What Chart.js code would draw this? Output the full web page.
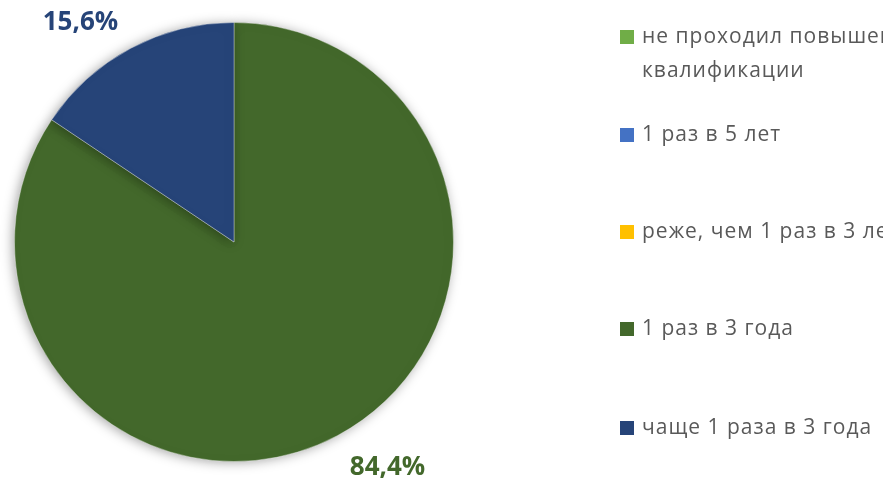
<!DOCTYPE html>
<html>
<head>
<meta charset="utf-8">
<script src="https://cdn.jsdelivr.net/npm/chart.js@4/dist/chart.umd.min.js"></script>
<style>
  html, body { margin: 0; padding: 0; background: #fff; overflow: hidden; }
  #wrap { position: relative; width: 883px; height: 484px; overflow: hidden; }
  #c { position: absolute; left: 0; top: 0; }
  #legend { position: absolute; left: 620px; top: 0; width: 400px; font-family: "Open Sans", "Noto Sans", sans-serif; font-size: 21px; letter-spacing: 1px; color: #595959; }
  .item { position: absolute; left: 0; white-space: nowrap; line-height: 34px; }
  .sw { position: absolute; left: 0; top: 12px; width: 14px; height: 14px; }
  .txt { position: absolute; left: 22px; top: 0; }
</style>
</head>
<body>
<div id="wrap">
  <canvas id="c" width="883" height="484"></canvas>
  <div id="legend"></div>
</div>
<script>
const categories = ["не проходил повышение квалификации", "1 раз в 5 лет", "реже, чем 1 раз в 3 лет", "1 раз в 3 года", "чаще 1 раза в 3 года"];
const legendLines = [["не проходил повышение", "квалификации"], ["1 раз в 5 лет"], ["реже, чем 1 раз в 3 лет"], ["1 раз в 3 года"], ["чаще 1 раза в 3 года"]];
const values = [0, 0, 0, 84.4, 15.6];
const labels = ["", "", "", "84,4%", "15,6%"];
const colors = ["#70AD47", "#4472C4", "#FFC000", "#43682B", "#264478"];

// legend (HTML)
const legendTops = [18, 116, 213, 310, 409];
const lg = document.getElementById('legend');
categories.forEach((cat, i) => {
  const it = document.createElement('div');
  it.className = 'item';
  it.style.top = legendTops[i] + 'px';
  it.title = cat;
  const sw = document.createElement('div');
  sw.className = 'sw';
  sw.style.background = colors[i];
  const tx = document.createElement('div');
  tx.className = 'txt';
  tx.innerHTML = legendLines[i].join('<br>');
  it.appendChild(sw); it.appendChild(tx);
  lg.appendChild(it);
});

const shadowPlugin = {
  id: 'shadow',
  beforeDatasetDraw(chart) {
    const ctx = chart.ctx;
    ctx.save();
    ctx.shadowColor = 'rgba(0,0,0,0.35)';
    ctx.shadowBlur = 12;
    ctx.shadowOffsetX = -2;
    ctx.shadowOffsetY = 1;
  },
  afterDatasetDraw(chart) {
    chart.ctx.restore();
  }
};

const labelPlugin = {
  id: 'pctLabels',
  afterDatasetsDraw(chart) {
    const ctx = chart.ctx;
    const meta = chart.getDatasetMeta(0);
    ctx.save();
    ctx.font = 'bold 26px "Open Sans", "Noto Sans", sans-serif';
    ctx.textAlign = 'center';
    ctx.textBaseline = 'middle';
    meta.data.forEach((arc, i) => {
      if (!values[i]) return;
      const p = arc.getProps(['x', 'y', 'startAngle', 'endAngle', 'outerRadius'], true);
      const mid = (p.startAngle + p.endAngle) / 2 - 6.5 * Math.PI / 180;
      const r = p.outerRadius + 51;
      ctx.fillStyle = colors[i];
      ctx.fillText(labels[i], p.x + Math.cos(mid) * r, p.y + Math.sin(mid) * r + 3);
    });
    ctx.restore();
  }
};

new Chart(document.getElementById('c'), {
  type: 'pie',
  data: {
    labels: categories,
    datasets: [{
      data: values,
      backgroundColor: colors,
      borderColor: 'rgba(255,255,255,0.35)',
      borderWidth: 1
    }]
  },
  options: {
    responsive: false,
    animation: false,
    layout: { padding: { left: 14, right: 429, top: 22, bottom: 22 } },
    plugins: { legend: { display: false }, tooltip: { enabled: false } }
  },
  plugins: [shadowPlugin, labelPlugin]
});
</script>
</body>
</html>
